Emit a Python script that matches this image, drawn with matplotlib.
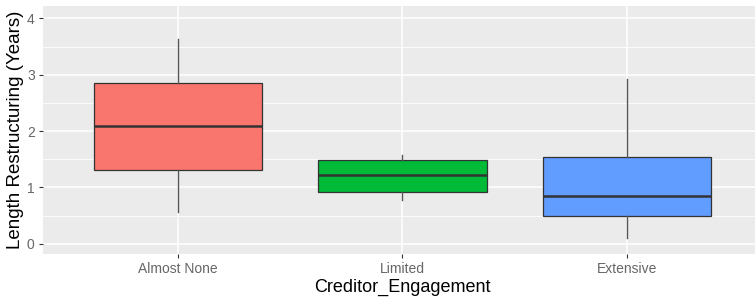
import matplotlib
matplotlib.use("Agg")
import matplotlib.pyplot as plt

plt.rcParams['font.family'] = ['Liberation Sans', 'DejaVu Sans']

# data
categories = ["Almost None", "Limited", "Extensive"]
whisker_low = [0.56, 0.78, 0.10]
q1 = [1.31, 0.92, 0.50]
median = [2.09, 1.23, 0.85]
q3 = [2.85, 1.48, 1.55]
whisker_high = [3.63, 1.57, 2.93]
colors = ["#F8766D", "#00BA38", "#619CFF"]

stats = []
for i, name in enumerate(categories):
    stats.append({
        "label": name,
        "whislo": whisker_low[i],
        "q1": q1[i],
        "med": median[i],
        "q3": q3[i],
        "whishi": whisker_high[i],
        "fliers": [],
    })

fig = plt.figure(figsize=(7.55, 2.98), dpi=100)
ax = fig.add_axes([0.057, 0.1477, 0.952, 0.832])
ax.set_facecolor("#EBEBEB")

positions = [1, 2, 3]
bp = ax.bxp(stats, positions=positions, widths=0.75, patch_artist=True,
            showcaps=False, showfliers=False,
            boxprops=dict(edgecolor="#333333", linewidth=0.9),
            whiskerprops=dict(color="#555555", linewidth=1.0),
            medianprops=dict(color="#333333", linewidth=1.8))
for patch, c in zip(bp["boxes"], colors):
    patch.set_facecolor(c)

ax.set_xlim(0.4, 3.6)
ax.set_ylim(-0.18, 4.22)
ax.set_yticks([0, 1, 2, 3, 4])
ax.set_yticks([0.5, 1.5, 2.5, 3.5], minor=True)
ax.set_xticks(positions)
ax.set_xticklabels(categories)

ax.grid(which="major", color="white", linewidth=1.1)
ax.grid(which="minor", axis="y", color="white", linewidth=0.6)
ax.set_axisbelow(True)
for s in ax.spines.values():
    s.set_visible(False)

ax.tick_params(which="major", length=3, width=0.8, color="#333333",
               labelsize=10, labelcolor="#666666", pad=3)
ax.tick_params(which="minor", length=0)

ax.set_xlabel("Creditor_Engagement", fontsize=13, color="black", labelpad=2)
ax.set_ylabel("Length Restructuring (Years)", fontsize=13.5, color="black", labelpad=2)

fig.savefig("out.png", dpi=100)
